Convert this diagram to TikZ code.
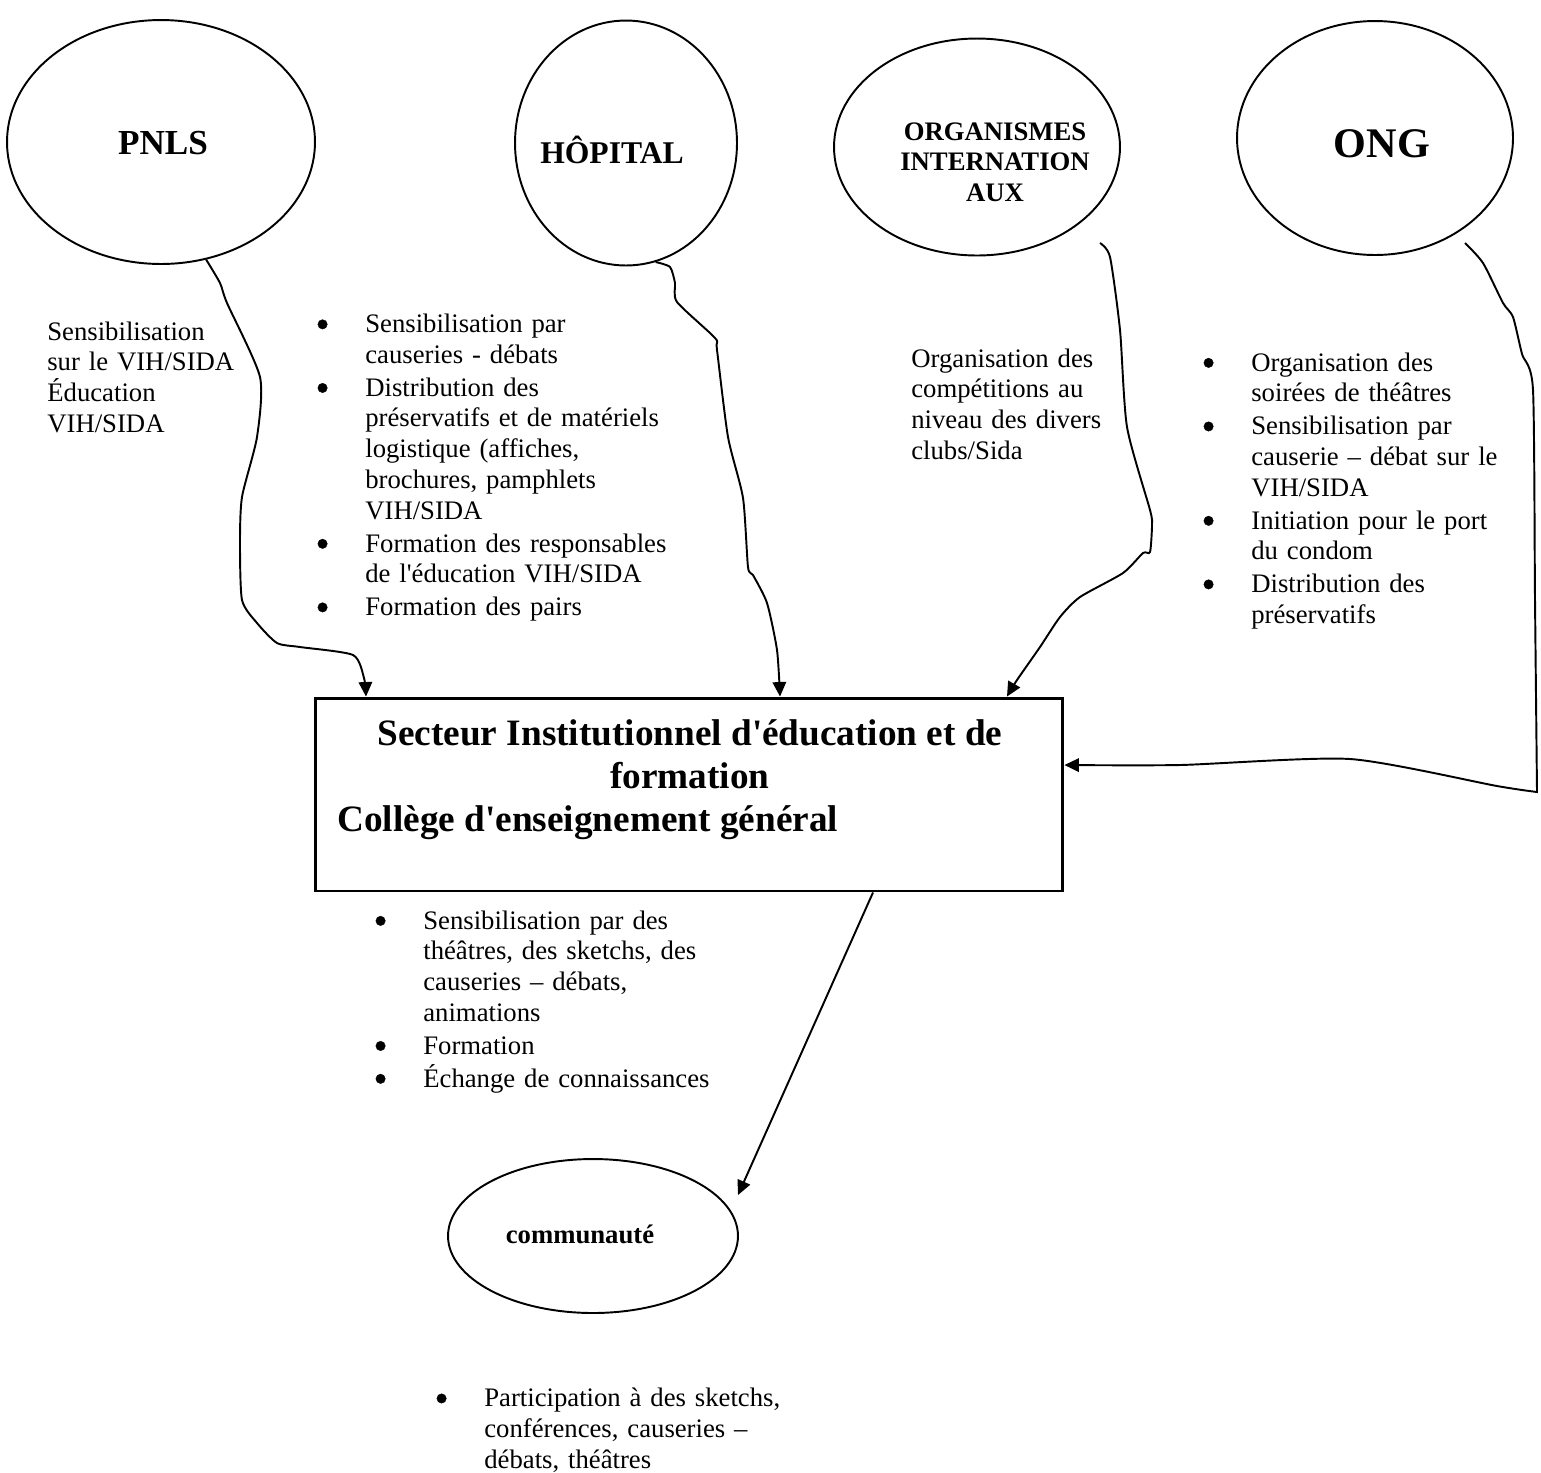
\documentclass[tikz,border=0pt]{standalone}
\usepackage{fontspec}
\setmainfont{Liberation Serif}[Ligatures=TeXOff]
\usetikzlibrary{shapes.geometric,arrows.meta}
\newcommand{\bigdot}{\tikz[baseline=-4.7pt]\fill[black,draw=black,line width=0.2pt] (0,0) circle (2.7pt);}
\newcommand{\bitem}[1]{\par\hangindent=0.954cm\hangafter=1\noindent\makebox[0.954cm][l]{\rule{0pt}{12pt}\bigdot}#1\par}
\newcommand{\topstrut}{\rule{0pt}{12pt}}
\begin{document}
\begin{tikzpicture}[x=0.02cm,y=-0.02cm,
 ell/.style={draw,ellipse,line width=1.1pt,inner sep=0pt},
 lab/.style={anchor=base,inner sep=0pt},
 txt/.style={anchor=north west,inner sep=0pt,text width=7cm,align=left,font=\fontsize{15.2}{17.4}\selectfont},
 lst/.style={anchor=north west,inner sep=0pt,text width=7cm,align=left,font=\fontsize{15.2}{17.5}\selectfont},
 conn/.style={line width=1.1pt,-{Triangle[length=0.29cm,width=0.27cm]}},
 box/.style={draw,rectangle,line width=1.7pt,minimum width=14.96cm,minimum height=3.86cm,inner sep=0pt},
]
\useasboundingbox (0,0) rectangle (1541,1472);
% ellipses
\node[ell,minimum width=6.16cm,minimum height=4.88cm] (pnls) at (161,142) {};
\node[ell,minimum width=4.44cm,minimum height=4.9cm] (hop) at (626,143) {};
\node[ell,minimum width=5.72cm,minimum height=4.34cm] (org) at (977,147) {};
\node[ell,minimum width=5.52cm,minimum height=4.68cm] (ong) at (1375,138) {};
\node[ell,minimum width=5.8cm,minimum height=3.08cm] (comm) at (593,1236) {};
% ellipse labels
\node[lab,font=\fontsize{20}{24}\selectfont\bfseries] (pnlsL) at (163,154) {PNLS};
\node[lab,font=\fontsize{18}{21}\selectfont\bfseries] (hopL) at (612,163) {HÔPITAL};
\node[lab,font=\fontsize{15.2}{17}\selectfont\bfseries] (orgL1) at (995,140) {ORGANISMES};
\node[lab,font=\fontsize{15.2}{17}\selectfont\bfseries] (orgL2) at (995,170.5) {INTERNATION};
\node[lab,font=\fontsize{15.2}{17}\selectfont\bfseries] (orgL3) at (995,201) {AUX};
\node[lab,font=\fontsize{24}{28}\selectfont\bfseries] (ongL) at (1382,157) {ONG};
\node[lab,font=\fontsize{15.2}{17}\selectfont\bfseries] (commL) at (580,1243) {communauté};
% central box
\node[box] (box) at (689,794.5) {};
\node[lab,font=\fontsize{21.2}{24.4}\selectfont\bfseries] (boxL1) at (690,745) {Secteur Institutionnel d'éducation et de};
\node[lab,font=\fontsize{21.2}{24.4}\selectfont\bfseries] (boxL2) at (690,788) {formation};
\node[lab,anchor=base west,font=\fontsize{21.2}{24.4}\selectfont\bfseries] (boxL3) at (337,831) {Collège d'enseignement général};
% texts
\node[txt] (pnlsT) at (47,318.9) {\topstrut Sensibilisation\newline sur le VIH/SIDA\newline Éducation\newline VIH/SIDA};
\node[lst] (hopT) at (317.3,299.4) {\setlength{\parskip}{1.2pt}%
\bitem{Sensibilisation par\newline causeries - débats}%
\bitem{Distribution des\newline préservatifs et de matériels\newline logistique (affiches,\newline brochures, pamphlets\newline VIH/SIDA}%
\bitem{Formation des responsables\newline de l'éducation VIH/SIDA}%
\bitem{Formation des pairs}};
\node[txt] (orgT) at (911,345.9) {\topstrut Organisation des\newline compétitions au\newline niveau des divers\newline clubs/Sida};
\node[lst] (ongT) at (1203.3,337.9) {\setlength{\parskip}{1.2pt}%
\bitem{Organisation des\newline soirées de théâtres}%
\bitem{Sensibilisation par\newline causerie – débat sur le\newline VIH/SIDA}%
\bitem{Initiation pour le port\newline du condom}%
\bitem{Distribution des\newline préservatifs}};
\node[lst] (boxT) at (375.3,895.9) {\setlength{\parskip}{1.2pt}%
\bitem{Sensibilisation par des\newline théâtres, des sketchs, des\newline causeries – débats,\newline animations}%
\bitem{Formation}%
\bitem{Échange de connaissances}};
\node[lst] (commT) at (436.3,1373.5) {\setlength{\parskip}{1.2pt}%
\bitem{Participation à des sketchs,\newline conférences, causeries –\newline débats, théâtres}};
% connectors
\coordinate (orgS) at (1100,243);
\coordinate (ongS) at (1465,243);
\coordinate (commIn) at (738,1195);
\draw[conn] plot[smooth,tension=0.4] coordinates {(pnls.-69) (220,283) (227,303) (260,377) (257,437) (242,497) (240,543) (242,600) (257,623) (277,643) (300,647) (353,655) (364,678) (366,0 |- box.north)};
\draw[conn] plot[smooth,tension=0.4] coordinates {(hop.-76) (670,267) (675,283) (677,302) (715,338) (717,350) (728,437) (743,498) (748,567) (753,575) (767,603) (777,650) (780,0 |- box.north)};
\draw[conn] plot[smooth,tension=0.4] coordinates {(orgS) (1110,257) (1120,330) (1127,427) (1150,510) (1152,525) (1150,552) (1143,553) (1123,573) (1080,597) (1060,617) (1040,647) (1017,680) (1007,0 |- box.north)};
\draw[conn] plot[smooth,tension=0.4] coordinates {(ongS) (1483,263) (1503,303) (1513,317) (1522,354) (1533,390) (1535,600) (1537,792)} -- plot[smooth,tension=0.4] coordinates {(1537,792) (1497,786) (1350,759) (1180,765) (1063,765 -| box.east)};
\draw[conn] (873,0 |- box.south) -- (commIn);
\end{tikzpicture}
\end{document}
